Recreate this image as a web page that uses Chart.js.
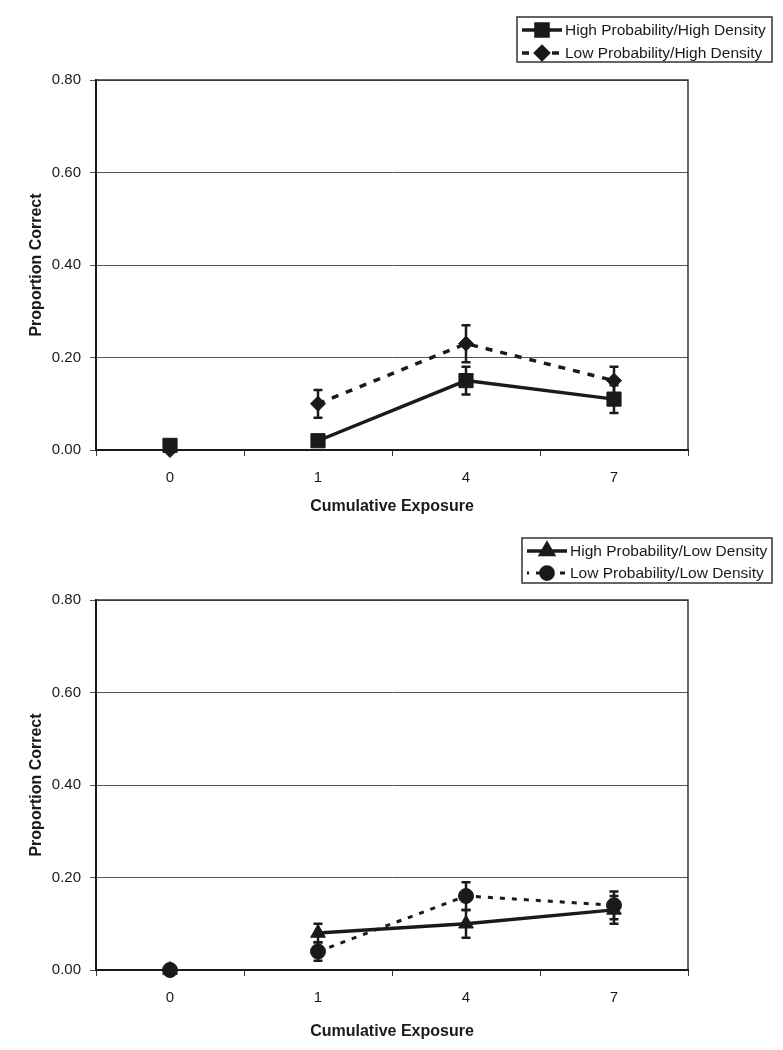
<!DOCTYPE html>
<html>
<head>
<meta charset="utf-8">
<script src="https://cdn.jsdelivr.net/npm/chart.js@4.4.1/dist/chart.umd.min.js"></script>
<style>
  body { margin: 0; background: #fff; }
  .panel { width: 783px; height: 525px; position: relative; }
</style>
</head>
<body>
<div class="panel"><canvas id="topChart" width="783" height="525"></canvas></div>
<div class="panel"><canvas id="bottomChart" width="783" height="525"></canvas></div>
<script>
// Data
const exposure = ['0', '1', '4', '7'];
const yTicks = [0, 0.2, 0.4, 0.6, 0.8];

const hpHighDensity = [0.01, 0.02, 0.15, 0.11];
const hpHighDensityErr = [0, 0, 0.03, 0.03];
const lpHighDensity = [0.00, 0.10, 0.23, 0.15];
const lpHighDensityErr = [0, 0.03, 0.04, 0.03];

const hpLowDensity = [0.00, 0.08, 0.10, 0.13];
const hpLowDensityErr = [0, 0.02, 0.03, 0.03];
const lpLowDensity = [0.00, 0.04, 0.16, 0.14];
const lpLowDensityErr = [0, 0.02, 0.03, 0.03];

const INK = '#1a1a1a';
const FONT = '"Liberation Sans", Arial, sans-serif';

// vertical error bars with caps
const errorBars = {
    id: 'errorBars',
    beforeDatasetsDraw(chart) {
        const ctx = chart.ctx;
        const y = chart.scales.y;
        chart.data.datasets.forEach((ds, i) => {
            if (!ds.errors) return;
            const meta = chart.getDatasetMeta(i);
            ctx.save();
            ctx.strokeStyle = INK;
            ctx.lineWidth = 2.5;
            meta.data.forEach((pt, j) => {
                const e = ds.errors[j];
                if (!e) return;
                const v = ds.data[j];
                const top = y.getPixelForValue(v + e);
                const bot = y.getPixelForValue(v - e);
                ctx.beginPath();
                ctx.moveTo(pt.x, top); ctx.lineTo(pt.x, bot);
                ctx.moveTo(pt.x - 4.5, top); ctx.lineTo(pt.x + 4.5, top);
                ctx.moveTo(pt.x - 4.5, bot); ctx.lineTo(pt.x + 4.5, bot);
                ctx.stroke();
            });
            ctx.restore();
        });
    }
};

// right/top frame of the plot area
const frame = {
    id: 'frame',
    beforeDatasetsDraw(chart) {
        const { ctx, chartArea: a } = chart;
        ctx.save();
        ctx.strokeStyle = '#333';
        ctx.lineWidth = 1.5;
        ctx.beginPath();
        ctx.moveTo(a.left, a.top);
        ctx.lineTo(a.right, a.top);
        ctx.lineTo(a.right, a.bottom);
        ctx.stroke();
        ctx.restore();
    }
};

// boxed legend, Excel style
const boxLegend = {
    id: 'boxLegend',
    afterDraw(chart, args, opts) {
        const ctx = chart.ctx;
        ctx.save();
        ctx.strokeStyle = '#333';
        ctx.lineWidth = 1.5;
        ctx.strokeRect(opts.left, opts.top, opts.width, opts.height);
        ctx.font = '15.5px ' + FONT;
        ctx.textBaseline = 'middle';
        chart.data.datasets.forEach((ds, i) => {
            const yRow = opts.top + opts.rowTop + i * opts.rowGap;
            const x0 = opts.left + 5;
            const x1 = x0 + opts.sampleWidth;
            ctx.strokeStyle = INK;
            ctx.fillStyle = INK;
            ctx.lineWidth = ds.borderWidth;
            ctx.setLineDash(ds.borderDash || []);
            ctx.lineDashOffset = opts.dashOffset || 0;
            ctx.beginPath();
            ctx.moveTo(x0, yRow);
            ctx.lineTo(x1, yRow);
            ctx.stroke();
            ctx.setLineDash([]);
            Chart.helpers.drawPoint(ctx, {
                pointStyle: ds.pointStyle,
                radius: ds.pointRadius * 0.85,
                borderWidth: 1,
                rotation: 0
            }, (x0 + x1) / 2, yRow);
            ctx.fillStyle = INK;
            ctx.fillText(ds.label, x1 + 3, yRow + 1);
        });
        ctx.restore();
    }
};

// skip the segment from 0 to 1 exposures
const hideFirst = {
    borderColor: c => c.p0DataIndex === 0 ? 'rgba(0,0,0,0)' : undefined
};

function makeSeries(label, data, errors, style, radius, dash, width) {
    return {
        label: label,
        data: data,
        errors: errors,
        borderColor: INK,
        backgroundColor: INK,
        pointBackgroundColor: INK,
        pointBorderColor: INK,
        pointBorderWidth: 1,
        pointStyle: style,
        pointRadius: radius,
        borderWidth: width,
        borderDash: dash,
        tension: 0,
        clip: false,
        segment: hideFirst
    };
}

function makeOptions(legend, areaTop) {
    return {
        responsive: false,
        animation: false,
        events: [],
        layout: { padding: { top: areaTop, right: 95, left: 0, bottom: 0 } },
        plugins: {
            legend: { display: false },
            tooltip: { enabled: false },
            boxLegend: legend
        },
        scales: {
            x: {
                type: 'category',
                offset: true,
                grid: {
                    offset: true,
                    drawOnChartArea: false,
                    drawTicks: true,
                    tickLength: 6,
                    color: '#333',
                    lineWidth: 1
                },
                border: { display: true, color: INK, width: 2 },
                ticks: { color: INK, font: { family: FONT, size: 15 }, padding: 13 },
                title: {
                    display: true,
                    text: 'Cumulative Exposure',
                    color: INK,
                    font: { family: FONT, size: 16, weight: 'bold' },
                    padding: { top: 0, bottom: 8.5 }
                },
                afterFit: s => { s.height = 525 - areaTop - 370; }
            },
            y: {
                min: 0,
                max: 0.8,
                afterBuildTicks: s => { s.ticks = yTicks.map(v => ({ value: v })); },
                grid: { color: '#555', lineWidth: 1, tickLength: 6 },
                border: { display: true, color: INK, width: 2 },
                ticks: {
                    color: INK,
                    font: { family: FONT, size: 15 },
                    padding: 9,
                    callback: v => Number(v).toFixed(2)
                },
                title: {
                    display: true,
                    text: 'Proportion Correct',
                    color: INK,
                    font: { family: FONT, size: 16, weight: 'bold' },
                    padding: { top: 27, bottom: 0 }
                },
                afterFit: s => { s.width = 96; }
            }
        }
    };
}

new Chart(document.getElementById('topChart'), {
    type: 'line',
    data: {
        labels: exposure,
        datasets: [
            makeSeries('High Probability/High Density', hpHighDensity, hpHighDensityErr, 'rect', 10, [], 3.5),
            makeSeries('Low Probability/High Density', lpHighDensity, lpHighDensityErr, 'rectRot', 7.5, [7, 8], 3.5)
        ]
    },
    options: makeOptions({ left: 517, top: 17, width: 255, height: 45, rowTop: 13, rowGap: 23, sampleWidth: 40, dashOffset: 0 }, 80),
    plugins: [frame, errorBars, boxLegend]
});

new Chart(document.getElementById('bottomChart'), {
    type: 'line',
    data: {
        labels: exposure,
        datasets: [
            makeSeries('High Probability/Low Density', hpLowDensity, hpLowDensityErr, 'triangle', 8.5, [], 3.5),
            makeSeries('Low Probability/Low Density', lpLowDensity, lpLowDensityErr, 'circle', 7.5, [5, 7], 3)
        ]
    },
    options: makeOptions({ left: 522, top: 13, width: 250, height: 45, rowTop: 13, rowGap: 22, sampleWidth: 40, dashOffset: 3 }, 75),
    plugins: [frame, errorBars, boxLegend]
});
</script>
</body>
</html>
